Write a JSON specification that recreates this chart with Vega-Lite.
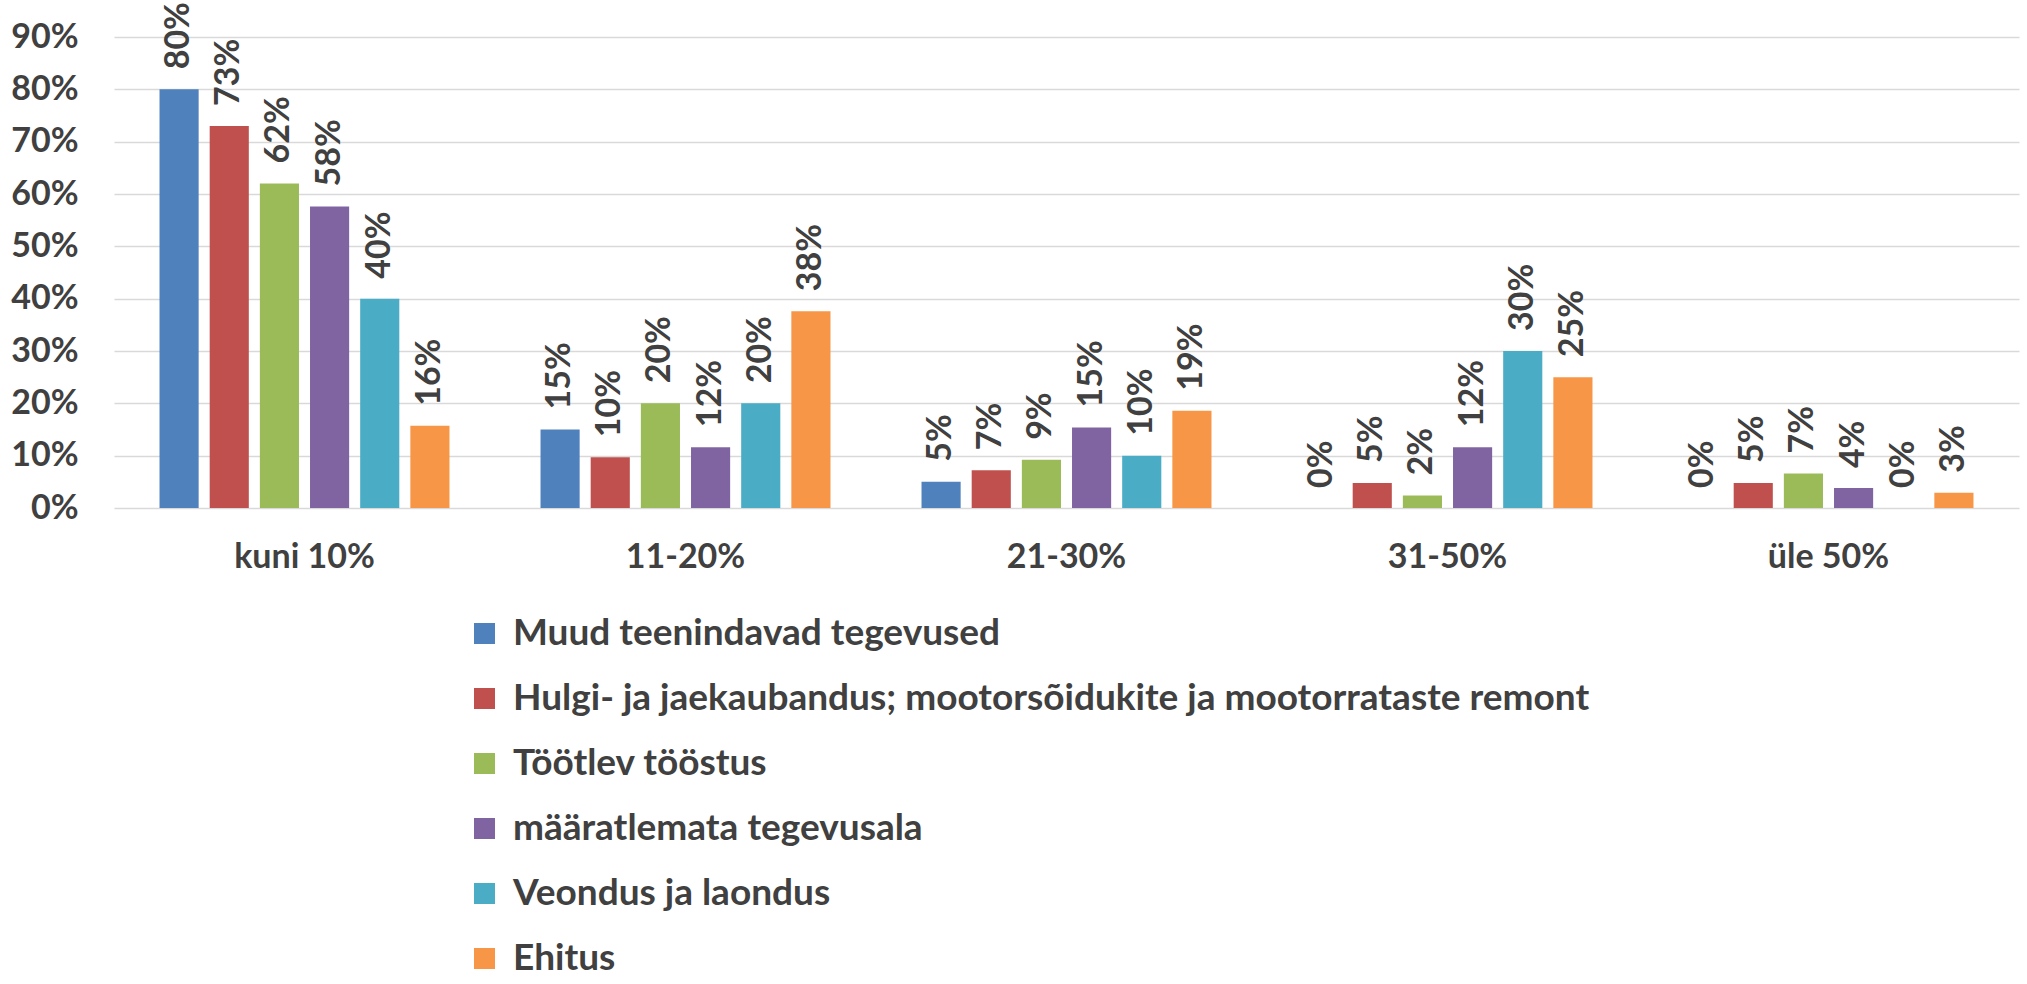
{
  "$schema": "https://vega.github.io/schema/vega-lite/v6.json",
  "autosize": "none",
  "width": 1905,
  "height": 471,
  "padding": {"left": 114, "top": 37, "right": 8, "bottom": 476},
  "background": "white",
  "config": {
    "view": {"stroke": null},
    "font": "Lato",
    "axis": {"labelFont": "Lato", "labelFontWeight": "bold", "labelColor": "#404040"},
    "legend": {"labelFont": "Lato", "labelFontWeight": "bold", "labelColor": "#404040"}
  },
  "data": {
    "values": [
      {"grupp": "kuni 10%", "tegevusala": "Muud teenindavad tegevused", "osakaal": 0.80},
      {"grupp": "kuni 10%", "tegevusala": "Hulgi- ja jaekaubandus; mootorsõidukite ja mootorrataste remont", "osakaal": 0.73},
      {"grupp": "kuni 10%", "tegevusala": "Töötlev tööstus", "osakaal": 0.62},
      {"grupp": "kuni 10%", "tegevusala": "määratlemata tegevusala", "osakaal": 0.576},
      {"grupp": "kuni 10%", "tegevusala": "Veondus ja laondus", "osakaal": 0.40},
      {"grupp": "kuni 10%", "tegevusala": "Ehitus", "osakaal": 0.157},
      {"grupp": "11-20%", "tegevusala": "Muud teenindavad tegevused", "osakaal": 0.15},
      {"grupp": "11-20%", "tegevusala": "Hulgi- ja jaekaubandus; mootorsõidukite ja mootorrataste remont", "osakaal": 0.097},
      {"grupp": "11-20%", "tegevusala": "Töötlev tööstus", "osakaal": 0.20},
      {"grupp": "11-20%", "tegevusala": "määratlemata tegevusala", "osakaal": 0.116},
      {"grupp": "11-20%", "tegevusala": "Veondus ja laondus", "osakaal": 0.20},
      {"grupp": "11-20%", "tegevusala": "Ehitus", "osakaal": 0.376},
      {"grupp": "21-30%", "tegevusala": "Muud teenindavad tegevused", "osakaal": 0.05},
      {"grupp": "21-30%", "tegevusala": "Hulgi- ja jaekaubandus; mootorsõidukite ja mootorrataste remont", "osakaal": 0.072},
      {"grupp": "21-30%", "tegevusala": "Töötlev tööstus", "osakaal": 0.092},
      {"grupp": "21-30%", "tegevusala": "määratlemata tegevusala", "osakaal": 0.154},
      {"grupp": "21-30%", "tegevusala": "Veondus ja laondus", "osakaal": 0.10},
      {"grupp": "21-30%", "tegevusala": "Ehitus", "osakaal": 0.186},
      {"grupp": "31-50%", "tegevusala": "Muud teenindavad tegevused", "osakaal": 0.0},
      {"grupp": "31-50%", "tegevusala": "Hulgi- ja jaekaubandus; mootorsõidukite ja mootorrataste remont", "osakaal": 0.048},
      {"grupp": "31-50%", "tegevusala": "Töötlev tööstus", "osakaal": 0.024},
      {"grupp": "31-50%", "tegevusala": "määratlemata tegevusala", "osakaal": 0.116},
      {"grupp": "31-50%", "tegevusala": "Veondus ja laondus", "osakaal": 0.30},
      {"grupp": "31-50%", "tegevusala": "Ehitus", "osakaal": 0.25},
      {"grupp": "üle 50%", "tegevusala": "Muud teenindavad tegevused", "osakaal": 0.0},
      {"grupp": "üle 50%", "tegevusala": "Hulgi- ja jaekaubandus; mootorsõidukite ja mootorrataste remont", "osakaal": 0.048},
      {"grupp": "üle 50%", "tegevusala": "Töötlev tööstus", "osakaal": 0.066},
      {"grupp": "üle 50%", "tegevusala": "määratlemata tegevusala", "osakaal": 0.038},
      {"grupp": "üle 50%", "tegevusala": "Veondus ja laondus", "osakaal": 0.0},
      {"grupp": "üle 50%", "tegevusala": "Ehitus", "osakaal": 0.029}
    ]
  },
  "encoding": {
    "x": {
      "field": "grupp", "type": "nominal",
      "sort": ["kuni 10%", "11-20%", "21-30%", "31-50%", "üle 50%"],
      "scale": {"paddingInner": 0.21, "paddingOuter": 0.105},
      "axis": {"title": null, "labelAngle": 0, "labelFontSize": 34, "labelPadding": 32, "ticks": false, "domain": false, "grid": false}
    },
    "xOffset": {
      "field": "tegevusala", "type": "nominal",
      "sort": ["Muud teenindavad tegevused", "Hulgi- ja jaekaubandus; mootorsõidukite ja mootorrataste remont", "Töötlev tööstus", "määratlemata tegevusala", "Veondus ja laondus", "Ehitus"],
      "scale": {"paddingInner": 0.22, "paddingOuter": 0.11}
    },
    "y": {
      "field": "osakaal", "type": "quantitative",
      "scale": {"domain": [0, 0.9], "nice": false},
      "axis": {"title": null, "format": ".0%", "values": [0, 0.1, 0.2, 0.3, 0.4, 0.5, 0.6, 0.7, 0.8, 0.9], "labelFontSize": 34, "labelPadding": 36, "ticks": false, "domain": false, "gridColor": "#D9D9D9", "gridWidth": 1.5}
    }
  },
  "layer": [
    {
      "mark": {"type": "bar"},
      "encoding": {
        "color": {
          "field": "tegevusala", "type": "nominal",
          "sort": ["Muud teenindavad tegevused", "Hulgi- ja jaekaubandus; mootorsõidukite ja mootorrataste remont", "Töötlev tööstus", "määratlemata tegevusala", "Veondus ja laondus", "Ehitus"],
          "scale": {"range": ["#4F81BD", "#C0504D", "#9BBB59", "#8064A2", "#4BACC6", "#F79646"]},
          "legend": {
            "title": null, "orient": "none", "legendX": 352, "legendY": 578, "direction": "vertical",
            "symbolType": "square", "symbolSize": 440, "symbolStrokeWidth": 0,
            "labelFontSize": 37, "rowPadding": 27, "labelOffset": 10, "labelLimit": 1600
          }
        }
      }
    },
    {
      "mark": {"type": "text", "angle": 270, "align": "left", "baseline": "middle", "dx": 20, "fontSize": 34, "fontWeight": "bold", "color": "#404040", "font": "Lato"},
      "encoding": {
        "text": {"field": "osakaal", "type": "quantitative", "format": ".0%"}
      }
    }
  ]
}
